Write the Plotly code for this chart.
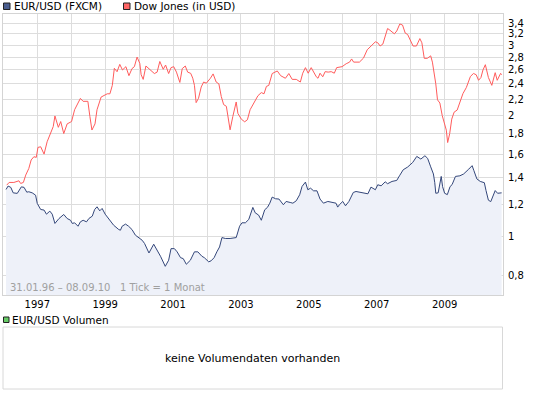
import plotly.graph_objects as go

# ---------------- data ----------------
eur_x = [1996.08, 1996.14, 1996.22, 1996.29, 1996.41, 1996.53, 1996.61, 1996.69, 1996.75, 1996.85,
         1996.95, 1997.00, 1997.10, 1997.20, 1997.27, 1997.37, 1997.44, 1997.52, 1997.64, 1997.78,
         1997.88, 1997.98, 1998.03, 1998.10, 1998.20, 1998.27, 1998.35, 1998.45, 1998.52, 1998.62,
         1998.69, 1998.76, 1998.84, 1998.91, 1999.00, 1999.10, 1999.25, 1999.40, 1999.45, 1999.50,
         1999.60, 1999.69, 1999.79, 1999.89, 2000.00, 2000.09, 2000.16, 2000.29, 2000.43, 2000.53,
         2000.63, 2000.77, 2000.87, 2000.94, 2001.04, 2001.12, 2001.22, 2001.30, 2001.39, 2001.51,
         2001.63, 2001.73, 2001.85, 2001.92, 2002.05, 2002.12, 2002.21, 2002.29, 2002.37, 2002.44,
         2002.54, 2002.68, 2002.86, 2002.96, 2003.03, 2003.13, 2003.23, 2003.35, 2003.42, 2003.52,
         2003.60, 2003.70, 2003.78, 2003.85, 2003.92, 2004.02, 2004.12, 2004.25, 2004.33, 2004.45,
         2004.53, 2004.63, 2004.73, 2004.80, 2004.90, 2004.97, 2005.05, 2005.14, 2005.24, 2005.33,
         2005.43, 2005.56, 2005.66, 2005.80, 2005.85, 2005.90, 2006.00, 2006.08, 2006.18, 2006.31,
         2006.39, 2006.54, 2006.67, 2006.74, 2006.83, 2006.96, 2007.03, 2007.13, 2007.25, 2007.32,
         2007.45, 2007.59, 2007.67, 2007.78, 2007.91, 2008.06, 2008.18, 2008.30, 2008.42, 2008.50,
         2008.59, 2008.67, 2008.71, 2008.74, 2008.81, 2008.86, 2008.90, 2008.94, 2009.00, 2009.08,
         2009.16, 2009.22, 2009.32, 2009.45, 2009.56, 2009.71, 2009.81, 2009.86, 2009.95, 2010.05,
         2010.17, 2010.22, 2010.29, 2010.36, 2010.44, 2010.49, 2010.56, 2010.68]
eur_y = [1.308, 1.334, 1.324, 1.283, 1.279, 1.328, 1.324, 1.288, 1.291, 1.283,
         1.266, 1.207, 1.166, 1.162, 1.135, 1.155, 1.135, 1.076, 1.107, 1.133,
         1.107, 1.096, 1.076, 1.080, 1.059, 1.086, 1.096, 1.086, 1.107, 1.122,
         1.166, 1.184, 1.157, 1.173, 1.135, 1.107, 1.065, 1.039, 1.035, 1.059,
         1.072, 1.059, 1.039, 1.006, 0.987, 0.977, 0.959, 0.908, 0.955, 0.923,
         0.891, 0.841, 0.871, 0.931, 0.931, 0.914, 0.884, 0.879, 0.851, 0.871,
         0.914, 0.914, 0.891, 0.884, 0.863, 0.868, 0.884, 0.914, 0.940, 0.992,
         0.987, 0.987, 0.992, 1.059, 1.080, 1.080, 1.101, 1.180, 1.144, 1.129,
         1.096, 1.164, 1.180, 1.209, 1.252, 1.240, 1.238, 1.198, 1.221, 1.214,
         1.209, 1.226, 1.269, 1.331, 1.365, 1.306, 1.318, 1.298, 1.298, 1.238,
         1.209, 1.221, 1.214, 1.209, 1.182, 1.198, 1.221, 1.191, 1.221, 1.286,
         1.293, 1.286, 1.276, 1.276, 1.326, 1.306, 1.344, 1.336, 1.367, 1.352,
         1.370, 1.378, 1.415, 1.465, 1.488, 1.528, 1.582, 1.558, 1.588, 1.564,
         1.490, 1.430, 1.360, 1.280, 1.283, 1.370, 1.410, 1.330, 1.280, 1.270,
         1.330, 1.345, 1.410, 1.415, 1.430, 1.470, 1.500, 1.460, 1.390, 1.370,
         1.360, 1.300, 1.230, 1.220, 1.270, 1.300, 1.280, 1.283]

dow_x = [1996.10, 1996.17, 1996.31, 1996.46, 1996.51, 1996.59, 1996.66, 1996.75, 1996.82, 1996.90,
         1996.97, 1997.02, 1997.10, 1997.20, 1997.29, 1997.39, 1997.47, 1997.52, 1997.62, 1997.69,
         1997.78, 1997.88, 1998.01, 1998.10, 1998.27, 1998.35, 1998.49, 1998.55, 1998.61, 1998.70,
         1998.76, 1998.88, 1999.06, 1999.14, 1999.21, 1999.27, 1999.35, 1999.43, 1999.51, 1999.61,
         1999.70, 1999.79, 1999.86, 1999.94, 2000.02, 2000.06, 2000.12, 2000.20, 2000.28, 2000.45,
         2000.53, 2000.61, 2000.71, 2000.78, 2000.87, 2000.94, 2001.02, 2001.10, 2001.20, 2001.27,
         2001.36, 2001.43, 2001.52, 2001.58, 2001.63, 2001.68, 2001.75, 2001.83, 2001.90, 2001.98,
         2002.10, 2002.18, 2002.27, 2002.35, 2002.42, 2002.49, 2002.57, 2002.62, 2002.68, 2002.76,
         2002.86, 2002.91, 2003.01, 2003.11, 2003.19, 2003.27, 2003.37, 2003.50, 2003.60, 2003.68,
         2003.75, 2003.82, 2003.92, 2004.07, 2004.17, 2004.31, 2004.41, 2004.51, 2004.63, 2004.75,
         2004.82, 2004.90, 2004.98, 2005.07, 2005.22, 2005.27, 2005.33, 2005.41, 2005.48, 2005.57,
         2005.66, 2005.75, 2005.82, 2005.98, 2006.10, 2006.20, 2006.26, 2006.32, 2006.49, 2006.61,
         2006.72, 2006.83, 2006.96, 2007.03, 2007.10, 2007.18, 2007.32, 2007.39, 2007.52, 2007.59,
         2007.68, 2007.76, 2007.84, 2007.91, 2008.00, 2008.07, 2008.17, 2008.27, 2008.33, 2008.40,
         2008.49, 2008.59, 2008.64, 2008.69, 2008.74, 2008.79, 2008.86, 2008.93, 2008.98, 2009.05,
         2009.09, 2009.15, 2009.21, 2009.28, 2009.37, 2009.45, 2009.54, 2009.64, 2009.76, 2009.85,
         2009.93, 2010.00, 2010.07, 2010.13, 2010.20, 2010.29, 2010.39, 2010.49, 2010.55, 2010.65,
         2010.68]
dow_y = [1.341, 1.362, 1.362, 1.375, 1.354, 1.362, 1.421, 1.476, 1.550, 1.579,
         1.573, 1.666, 1.672, 1.603, 1.721, 1.800, 1.878, 1.996, 1.870, 1.933,
         1.804, 1.907, 1.933, 2.069, 2.208, 2.171, 2.171, 1.989, 1.841, 1.907,
         2.069, 2.225, 2.267, 2.267, 2.379, 2.625, 2.574, 2.685, 2.600, 2.650,
         2.516, 2.620, 2.650, 2.800, 2.700, 2.530, 2.463, 2.660, 2.620, 2.547,
         2.568, 2.730, 2.610, 2.675, 2.547, 2.635, 2.650, 2.568, 2.420, 2.620,
         2.660, 2.568, 2.550, 2.480, 2.380, 2.155, 2.210, 2.358, 2.426, 2.410,
         2.479, 2.542, 2.426, 2.400, 2.233, 2.131, 2.110, 1.989, 1.843, 1.989,
         2.163, 2.026, 1.960, 1.930, 1.953, 2.069, 2.150, 2.242, 2.283, 2.267,
         2.366, 2.379, 2.547, 2.585, 2.516, 2.479, 2.547, 2.463, 2.463, 2.426,
         2.552, 2.635, 2.552, 2.635, 2.500, 2.479, 2.552, 2.500, 2.575, 2.568,
         2.575, 2.552, 2.635, 2.650, 2.695, 2.720, 2.770, 2.720, 2.720, 2.784,
         2.920, 2.984, 3.057, 3.040, 2.984, 3.017, 3.300, 3.267, 3.200, 3.253,
         3.387, 3.367, 3.213, 3.189, 3.074, 2.984, 2.984, 3.114, 3.040, 2.780,
         2.780, 2.820, 2.720, 2.560, 2.400, 2.190, 2.150, 2.000, 1.920, 1.840,
         1.713, 1.804, 1.960, 2.040, 2.065, 2.150, 2.270, 2.350, 2.505, 2.548,
         2.530, 2.450, 2.490, 2.600, 2.680, 2.490, 2.380, 2.560, 2.450, 2.550,
         2.530]

y_ticks = [0.8, 1.0, 1.2, 1.4, 1.6, 1.8, 2.0, 2.2, 2.4, 2.6, 2.8, 3.0, 3.2, 3.4]
y_tick_labels = ["0,8", "1", "1,2", "1,4", "1,6", "1,8", "2", "2,2", "2,4", "2,6",
                 "2,8", "3", "3,2", "3,4"]
year_ticks = list(range(1996, 2011))
year_labels = [str(y) if y % 2 == 1 else "" for y in year_ticks]

# ---------------- layout helpers ----------------
W, H = 545, 395
L, R, T, B = 3, 503, 14, 295
FONT = "DejaVu Sans"


def px(x):
    return (x - L) / (R - L)


def py(y):
    return (B - y) / (B - T)


EUR_COL = "#34477A"
DOW_COL = "#FF5C5C"
GRID = "#DDDDDD"

fig = go.Figure()
fig.add_trace(go.Scatter(x=eur_x, y=eur_y, mode="lines", fill="tozeroy",
                         fillcolor="#EEF1F9", line=dict(color=EUR_COL, width=1),
                         hoverinfo="skip", showlegend=False))
fig.add_trace(go.Scatter(x=dow_x, y=dow_y, mode="lines",
                         line=dict(color=DOW_COL, width=1),
                         hoverinfo="skip", showlegend=False))

shapes = [
    # legend squares
    dict(type="rect", xref="paper", yref="paper", x0=px(3.5), x1=px(10), y0=py(9.5), y1=py(3),
         fillcolor="#4A5E8F", line=dict(color="#222222", width=1)),
    dict(type="rect", xref="paper", yref="paper", x0=px(123.5), x1=px(130), y0=py(9.5), y1=py(3),
         fillcolor="#FF6666", line=dict(color="#222222", width=1)),
    dict(type="rect", xref="paper", yref="paper", x0=px(3.5), x1=px(9), y0=py(322.5), y1=py(317),
         fillcolor="#66CC66", line=dict(color="#222222", width=1)),
    # volume panel
    dict(type="rect", xref="paper", yref="paper", x0=px(3), x1=px(502.5), y0=py(389), y1=py(327),
         fillcolor="white", line=dict(color="#D8D8D8", width=1)),
]

ann = [
    dict(text="EUR/USD (FXCM)", x=px(12), y=py(6.5)),
    dict(text="Dow Jones (in USD)", x=px(132), y=py(6.5)),
    dict(text="EUR/USD Volumen", x=px(10), y=py(320)),
]
annotations = []
for a in ann:
    annotations.append(dict(text=a["text"], x=a["x"], y=a["y"], xref="paper", yref="paper",
                            xanchor="left", yanchor="middle", showarrow=False,
                            font=dict(family=FONT, size=10.5, color="#000000")))
annotations.append(dict(text="keine Volumendaten vorhanden", x=px(252), y=py(358),
                        xref="paper", yref="paper", xanchor="center", yanchor="middle",
                        showarrow=False, font=dict(family=FONT, size=11, color="#000000")))
annotations.append(dict(text="31.01.96 \u2013 08.09.10   1 Tick = 1 Monat", x=px(8), y=py(287),
                        xref="paper", yref="paper", xanchor="left", yanchor="middle",
                        showarrow=False, font=dict(family=FONT, size=10, color="#A0A0A0")))

fig.update_layout(
    width=W, height=H,
    margin=dict(l=L, r=W - R, t=T, b=H - B, pad=0),
    paper_bgcolor="white", plot_bgcolor="white",
    font=dict(family=FONT, size=10, color="#000000"),
    shapes=shapes, annotations=annotations,
    xaxis=dict(range=[1995.99, 2010.72], tickmode="array", tickvals=year_ticks,
               ticktext=year_labels, showgrid=True, gridcolor=GRID, gridwidth=1,
               zeroline=False, showline=True, linecolor="#D4D4D4", mirror=True,
               ticks="", tickfont=dict(family=FONT, size=10, color="#000000")),
    yaxis=dict(type="log", range=[-0.1468, 0.5547], side="right", tickmode="array",
               tickvals=y_ticks, ticktext=y_tick_labels, showgrid=True, gridcolor=GRID,
               gridwidth=1, zeroline=False, showline=True, linecolor="#D4D4D4", mirror=True,
               ticks="outside", ticklen=2, tickcolor="rgba(0,0,0,0)",
               tickfont=dict(family=FONT, size=10, color="#000000")),
)

fig.write_html("out.html", config={"displayModeBar": False},
               post_script="document.body.style.margin='0';document.body.style.overflow='hidden';")
